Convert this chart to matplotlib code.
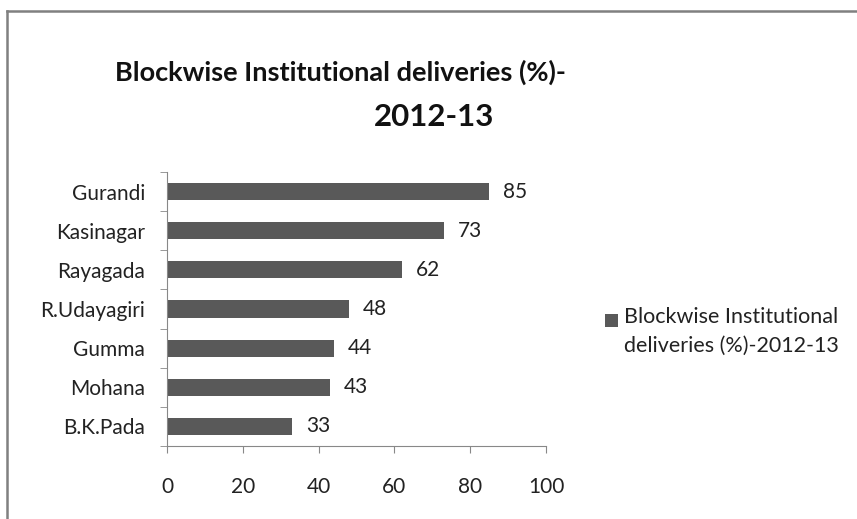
import matplotlib
matplotlib.use("Agg")
import matplotlib.pyplot as plt
from matplotlib.lines import Line2D
from matplotlib.patches import Patch, Rectangle
from matplotlib.legend_handler import HandlerPatch

blocks = ["Gurandi", "Kasinagar", "Rayagada", "R.Udayagiri", "Gumma", "Mohana", "B.K.Pada"]
values = [85, 73, 62, 48, 44, 43, 33]
xticks = [0, 20, 40, 60, 80, 100]
series_name = "Blockwise Institutional\ndeliveries (%)-2012-13"
title_line1 = "Blockwise Institutional deliveries (%)-"
title_line2 = "2012-13"

plt.rcParams['font.family'] = ['Lato', 'DejaVu Sans']
fig = plt.figure(figsize=(8.57, 5.19), dpi=100)
bar_color = "#595959"
text_color = "#222222"
W, H = 857, 519
ax = fig.add_axes([167 / W, 1 - 446 / H, (546 - 167) / W, (446 - 172) / H])

n = len(blocks)
ypos = list(range(n))
ax.barh(ypos, values, height=0.44, color=bar_color)
ax.set_ylim(n - 0.5, -0.5)
ax.set_xlim(0, 100)
ax.set_yticks(ypos)
ax.set_yticklabels(blocks, fontsize=15, color=text_color)
ax.set_yticks([i - 0.5 for i in range(n + 1)], minor=True)
ax.tick_params(axis='y', which='major', length=0, pad=16)
ax.tick_params(axis='y', which='minor', length=5, color="#888888", direction='out')
ax.set_xticks(xticks)
ax.set_xticklabels([str(t) for t in xticks], fontsize=15, color=text_color)
ax.tick_params(axis='x', length=5, color="#888888", pad=17)
for s in ["top", "right"]:
    ax.spines[s].set_visible(False)
for s in ["left", "bottom"]:
    ax.spines[s].set_color("#888888")
for y, v in zip(ypos, values):
    ax.annotate(str(v), (v, y), xytext=(10, 0), textcoords="offset points",
                va="center", ha="left", fontsize=15, color=text_color)

fig.text(340 / W, 1 - 81 / H, title_line1, ha="center", va="baseline", fontsize=19.5,
         fontweight="bold", color="#111111")
fig.text(434 / W, 1 - 126 / H, title_line2, ha="center", va="baseline", fontsize=22.5,
         fontweight="bold", color="#111111")


class TopSquare(HandlerPatch):
    def create_artists(self, legend, orig_handle, xdescent, ydescent, width, height,
                       fontsize, trans):
        s = fontsize * 0.62
        r = Rectangle((width - s - xdescent, height - s - ydescent - fontsize * 0.12), s, s,
                      facecolor=orig_handle.get_facecolor(), edgecolor="none",
                      transform=trans)
        return [r]


handle = Patch(facecolor=bar_color)
leg = fig.legend([handle], [series_name], loc="center left",
                 bbox_to_anchor=(584 / W, 1 - 331 / H), frameon=False, fontsize=15.5,
                 handlelength=0.7, handleheight=2.7, handletextpad=0.25,
                 labelcolor=text_color, handler_map={Patch: TopSquare()})
for t in leg.get_texts():
    t.set_linespacing(1.55)

# chart border
fig.add_artist(Line2D([7.5 / W, 1], [1 - 10.5 / H, 1 - 10.5 / H], color="#808080", lw=1.8))
fig.add_artist(Line2D([7.5 / W, 7.5 / W], [0, 1 - 10.5 / H], color="#808080", lw=1.8))

fig.savefig("out.png", dpi=100)
